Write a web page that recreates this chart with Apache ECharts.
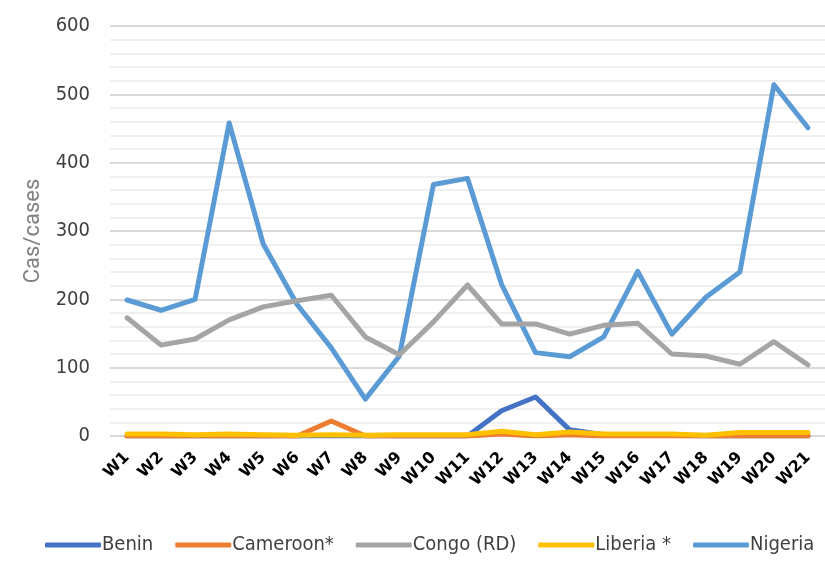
<!DOCTYPE html>
<html>
<head>
<meta charset="utf-8">
<script src="https://cdn.jsdelivr.net/npm/echarts@6/dist/echarts.min.js"></script>
<style>
  html, body { margin: 0; padding: 0; background: #fff; }
  #chart { width: 825px; height: 562px; }
</style>
</head>
<body>
<div id="chart"></div>
<script>
  // semaines
  var weeks = ['W1','W2','W3','W4','W5','W6','W7','W8','W9','W10','W11','W12','W13','W14','W15','W16','W17','W18','W19','W20','W21'];
  var benin    = [0, 0, 0, 0, 0, 0, 0, 0, 0, 0, 0, 37, 57, 9, 2, 1, 1, 0, 0, 0, 0];
  var cameroon = [0, 0, 0, 0, 0, 0, 22, 0, 0, 0, 0, 3, 0, 2, 0, 0, 0, 0, 0, 0, 0];
  var congo    = [173, 133, 142, 170, 189, 198, 206, 145, 119, 167, 221, 164, 164, 149, 162, 165, 120, 117, 105, 138, 104];
  var liberia  = [3, 3, 2, 3, 2, 1, 2, 1, 2, 2, 2, 7, 2, 6, 3, 3, 3, 1, 5, 5, 5];
  var nigeria  = [199, 184, 200, 458, 281, 192, 129, 54, 117, 368, 377, 222, 122, 116, 145, 241, 149, 203, 240, 514, 451];
  var yTicks = [0, 100, 200, 300, 400, 500, 600];

  var names  = ['Benin', 'Cameroon*', 'Congo (RD)', 'Liberia *', 'Nigeria'];
  var colors = ['#4472C4', '#ED7D31', '#A5A5A5', '#FFC000', '#5B9BD5'];
  var datas  = [benin, cameroon, congo, liberia, nigeria];
  var narrow = 'DejaVu Sans Condensed, Liberation Sans Narrow, Roboto';

  var myChart = echarts.init(document.getElementById('chart'));
  var series = [];
  // ordre de dessin : Nigeria derriere, Liberia devant
  [4, 2, 0, 1, 3].forEach(function(i){
    series.push({
      name: names[i],
      type: 'line',
      data: datas[i],
      symbol: 'none',
      z: i === 3 ? 5 : 2,
      lineStyle: { color: colors[i], width: 5, cap: 'round', join: 'round' },
      itemStyle: { color: colors[i] }
    });
  });

  var option = {
    animation: false,
    color: colors,
    grid: { left: 110, right: -14, top: 26, bottom: 126 },
    legend: {
      bottom: 2,
      left: 40,
      width: 800,
      data: names,
      itemWidth: 56,
      itemHeight: 5,
      itemGap: 22,
      icon: 'roundRect',
      textStyle: { fontFamily: narrow, fontSize: 20, color: '#404040', padding: [0, 0, 0, -4] }
    },
    xAxis: {
      type: 'category',
      data: weeks,
      boundaryGap: true,
      axisLine: { show: false },
      axisTick: { show: false },
      axisLabel: {
        rotate: 45,
        interval: 0,
        margin: 19,
        fontFamily: 'DejaVu Sans',
        fontWeight: 'bold',
        fontSize: 16,
        color: '#000'
      }
    },
    yAxis: {
      type: 'value',
      min: yTicks[0],
      max: yTicks[yTicks.length - 1],
      interval: 100,
      name: 'Cas/cases',
      nameLocation: 'middle',
      nameGap: 64,
      nameTextStyle: { fontFamily: 'Roboto', fontSize: 22, color: '#808080' },
      axisLine: { show: false },
      axisTick: { show: false },
      axisLabel: { fontFamily: narrow, fontSize: 20, color: '#404040', margin: 20 },
      splitLine: { lineStyle: { color: '#d9d9d9', width: 2 } },
      minorTick: { show: false, splitNumber: 5 },
      minorSplitLine: { show: true, lineStyle: { color: '#f0f0f0', width: 2 } }
    },
    series: series
  };
  myChart.setOption(option);
</script>
</body>
</html>
